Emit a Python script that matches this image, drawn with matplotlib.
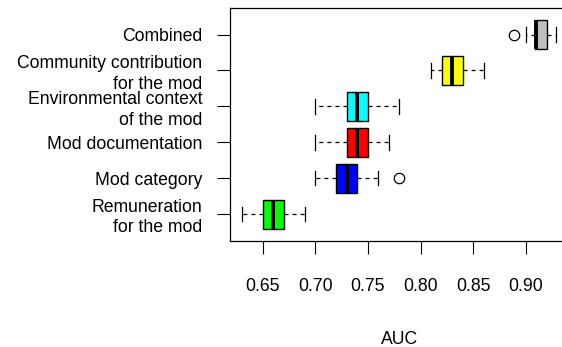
import matplotlib
matplotlib.use("Agg")
import matplotlib.pyplot as plt

plt.rcParams['font.family'] = ['Liberation Sans', 'DejaVu Sans']
plt.rcParams['lines.scale_dashes'] = False

# Categories from bottom to top
labels = ["Remuneration\nfor the mod", "Mod category", "Mod documentation",
          "Environmental context\nof the mod", "Community contribution\nfor the mod", "Combined"]
colors = ["#00FF00", "#0000FF", "#FF0000", "#00FFFF", "#FFFF00", "#BEBEBE"]
whislo = [0.630, 0.700, 0.700, 0.700, 0.810, 0.900]
q1     = [0.650, 0.720, 0.730, 0.730, 0.820, 0.909]
med    = [0.660, 0.730, 0.740, 0.740, 0.830, 0.910]
q3     = [0.670, 0.740, 0.750, 0.750, 0.840, 0.920]
whishi = [0.690, 0.760, 0.770, 0.780, 0.860, 0.929]
fliers = [[], [0.780], [], [], [], [0.889]]
xticks = [0.65, 0.70, 0.75, 0.80, 0.85, 0.90]
xticklabels = ["0.65", "0.70", "0.75", "0.80", "0.85", "0.90"]

stats = []
for i in range(len(labels)):
    stats.append(dict(whislo=whislo[i], q1=q1[i], med=med[i], q3=q3[i],
                      whishi=whishi[i], fliers=fliers[i], label=labels[i]))

fig = plt.figure(figsize=(5.62, 3.47), dpi=100)
ax = fig.add_axes([0.4087, 0.3063, 0.603, 0.6706])

bp = ax.bxp(stats, positions=range(1, len(labels) + 1), widths=0.8,
            orientation='horizontal', patch_artist=True,
            boxprops=dict(edgecolor='black', linewidth=1.0),
            medianprops=dict(color='black', linewidth=2.8, solid_capstyle='butt'),
            whiskerprops=dict(color='black', linewidth=0.9, linestyle=(0, (2.9, 2.9))),
            capprops=dict(color='black', linewidth=0.9),
            capwidths=0.4,
            flierprops=dict(marker='o', markersize=7.5, markerfacecolor='none',
                            markeredgecolor='black', markeredgewidth=0.9))
for patch, c in zip(bp['boxes'], colors):
    patch.set_facecolor(c)

ax.set_xlim(0.6183, 0.9410)
ax.set_ylim(0.26, 6.74)
ax.set_xticks(xticks)
ax.set_xticklabels(xticklabels)
ax.set_yticks(range(1, len(labels) + 1))
ax.set_yticklabels(labels, linespacing=1.25)
ax.tick_params(axis='both', labelsize=12.7, length=9.5, width=0.8, direction='out')
ax.tick_params(axis='x', pad=17)
ax.tick_params(axis='y', pad=10)
for s in ax.spines.values():
    s.set_linewidth(0.9)
ax.spines['right'].set_visible(False)
ax.set_xlabel("AUC", fontsize=12.7, labelpad=26)

fig.savefig("out.png", dpi=100)
